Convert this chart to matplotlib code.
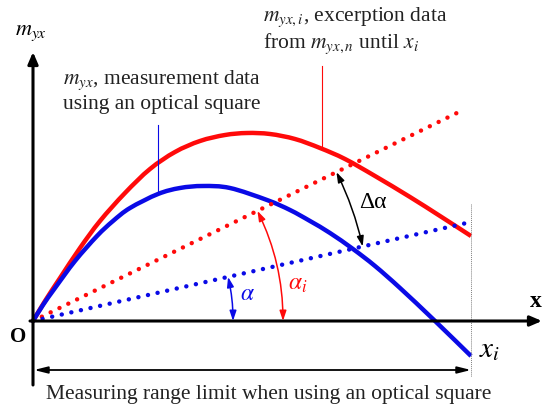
import numpy as np
import matplotlib.pyplot as plt
from matplotlib.patches import PathPatch
from matplotlib.path import Path

plt.rcParams['font.family'] = ['Liberation Serif', 'DejaVu Serif']
plt.rcParams['mathtext.fontset'] = 'stix'

# picture coordinates (pixels, y down), origin of the sketch at O
ox, oy = 33, 322
x_end = 471

# red curve: excerption data m_yx,i
red_x = [33, 45, 60, 80, 100, 125, 150, 175, 200, 225, 247, 270, 295, 320, 345, 375, 410, 440, 471]
red_y = [322, 302, 279, 249, 222, 194, 170, 153, 142, 136, 134, 135, 140, 149, 160, 177, 198, 217, 237]

# blue curve: measurement data m_yx
blue_x = [33, 43, 55, 75, 97, 113, 130, 158, 180, 203, 230, 267, 290, 310, 330, 353, 375, 400, 434, 471]
blue_y = [322, 306, 289, 262, 237, 222, 209, 195, 189, 187, 189, 201, 211, 222, 234, 250, 267, 289, 321, 357]

# dotted chords from O
red_chord = (465, 110)
blue_chord = (471, 223)

# angle arc radii
r_alpha, r_alpha_i, r_delta = 200, 250, 338

RED = '#ff0a0a'
BLUE = '#0a0ae6'
TXT = '#222222'
FS = 15.5

fig = plt.figure(figsize=(5.48, 4.10), dpi=100)
ax = fig.add_axes([0, 0, 1, 1])
ax.set_xlim(0, 548)
ax.set_ylim(410, 0)
ax.axis('off')


def smooth_path(xs, ys):
    # draw through the read points with cubic bezier segments (catmull-rom tangents)
    p = np.column_stack([xs, ys]).astype(float)
    verts = [p[0]]
    codes = [Path.MOVETO]
    n = len(p)
    for i in range(n - 1):
        p0 = p[max(i - 1, 0)]
        p1 = p[i]
        p2 = p[i + 1]
        p3 = p[min(i + 2, n - 1)]
        verts += [p1 + (p2 - p0) / 6, p2 - (p3 - p1) / 6, p2]
        codes += [Path.CURVE4] * 3
    return Path(verts, codes)


# axes arrows
ax.annotate('', xy=(ox, 53), xytext=(ox, 386),
            arrowprops=dict(arrowstyle='-|>,head_length=0.7,head_width=0.3', lw=2.2, color='black',
                            shrinkA=0, shrinkB=0))
ax.annotate('', xy=(542, oy), xytext=(30, oy),
            arrowprops=dict(arrowstyle='-|>,head_length=0.7,head_width=0.3', lw=2.2, color='black',
                            shrinkA=0, shrinkB=0))

# measuring range marker
ax.plot([x_end, x_end], [205, 378], color='gray', lw=0.7, ls=(0, (1, 1)))
ax.annotate('', xy=(ox + 1, 371), xytext=(x_end, 371),
            arrowprops=dict(arrowstyle='<|-|>,head_length=0.8,head_width=0.2', lw=1.3, color='black',
                            shrinkA=0, shrinkB=0))

# dotted chords
ax.plot([ox, red_chord[0]], [oy, red_chord[1]], color=RED, lw=3.2, ls=(0, (0.01, 2.2)),
        dash_capstyle='round')
ax.plot([ox, blue_chord[0]], [oy, blue_chord[1]], color=BLUE, lw=3.2, ls=(0, (0.01, 2.2)),
        dash_capstyle='round')

# curves
ax.add_patch(PathPatch(smooth_path(red_x, red_y), facecolor='none', edgecolor=RED, lw=3.2,
                       capstyle='butt'))
ax.add_patch(PathPatch(smooth_path(blue_x, blue_y), facecolor='none', edgecolor=BLUE, lw=3.2,
                       capstyle='butt'))

# leader lines
ax.plot([158, 158], [126, 194], color=BLUE, lw=0.8)
ax.plot([322, 322], [67, 148], color=RED, lw=0.8)


def ang(p):
    return np.arctan2(oy - p[1], p[0] - ox)


def on_ray(theta, r):
    return (ox + r * np.cos(theta), oy - r * np.sin(theta))


def angle_arrow(t1, t2, r, color):
    p1 = on_ray(t1, r)
    p2 = on_ray(t2, r)
    rad = np.tan((t2 - t1) / 4)
    ax.annotate('', xy=p2, xytext=p1,
                arrowprops=dict(arrowstyle='<|-|>,head_length=0.6,head_width=0.2', lw=1.1,
                                color=color, shrinkA=0, shrinkB=0,
                                connectionstyle='arc3,rad=%.3f' % rad))


ta = ang(blue_chord)
tr = ang(red_chord)
angle_arrow(0, ta, r_alpha, BLUE)
angle_arrow(0, tr, r_alpha_i, RED)
angle_arrow(ta, tr, r_delta, 'black')

# labels
ax.text(31, 33, r'$m_{yx}$', fontsize=16, ha='center', va='center')
ax.text(18, 337, 'O', fontsize=15, fontweight='bold', ha='center', va='center')
ax.text(536, 302, 'x', fontsize=17, fontweight='bold', ha='center', va='center')
ax.text(479, 350, r'$x_i$', fontsize=21, ha='left', va='center')
ax.text(63, 80, r'$m_{yx}$, measurement data', fontsize=FS, ha='left', va='center', color=TXT)
ax.text(63, 104, 'using an optical square', fontsize=FS, ha='left', va='center', color=TXT)
ax.text(263, 17, r'$m_{yx,i}$, excerption data', fontsize=FS, ha='left', va='center', color=TXT)
ax.text(263, 44, r'from $m_{yx,n}$ until $x_i$', fontsize=FS, ha='left', va='center', color=TXT)
ax.text(373, 203, 'Δα', fontsize=17, ha='center', va='center')
ax.text(247, 295, r'$\alpha$', fontsize=17, color=BLUE, ha='center', va='center')
ax.text(298, 285, r'$\alpha_i$', fontsize=17, color=RED, ha='center', va='center')
ax.text(269, 395, 'Measuring range limit when using an optical square', fontsize=FS,
        ha='center', va='center', color=TXT)

fig.savefig('out.png', dpi=100)
